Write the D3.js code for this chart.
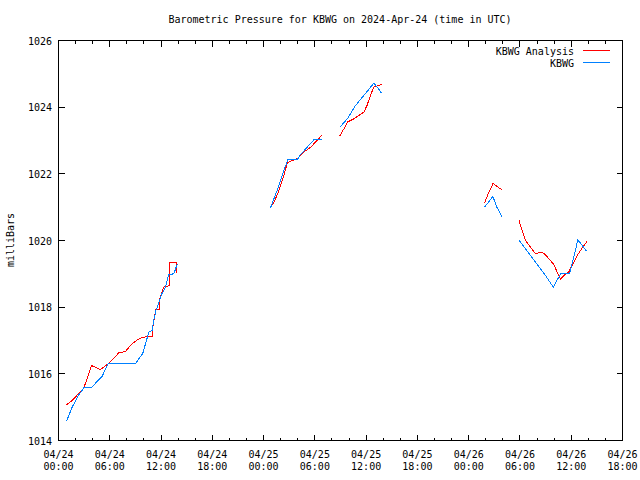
<!DOCTYPE html>
<html><head><meta charset="utf-8">
<script src="https://cdn.jsdelivr.net/npm/d3@7"></script>
<style>body{margin:0;background:#fff}svg{display:block}text{font-family:"DejaVu Sans Mono",monospace;font-size:10px;fill:#000}</style>
</head><body><svg id="c" width="640" height="480"></svg>
<script>
// hours since 2024-04-24 00:00 UTC; null = gap
const analysisHours = [0.94,1.6,2.97,3.86,4.9,5.8,6.5,7.06,7.84,8.4,9.2,9.87,10.96,10.96,11.2,11.4,11.8,11.8,12.3,13.0,13.0,13.8,13.8,null,
  24.81,25.3,25.8,26.37,26.76,27.15,27.9,28.7,29.5,30.27,30.78,null,
  32.92,33.4,33.8,34.56,35.15,35.73,36.1,36.6,36.9,37.37,37.9,null,
  49.85,50.36,50.87,51.3,51.9,null,
  53.87,54.26,54.65,55.24,55.82,56.4,56.8,57.4,57.96,58.36,58.75,59.3,59.7,60.1,60.7,61.3,61.86];
const analysisValues = [1015.07,1015.2,1015.58,1016.25,1016.13,1016.3,1016.48,1016.63,1016.67,1016.85,1017.02,1017.1,1017.12,1017.3,1017.65,1017.92,1017.92,1018.22,1018.6,1018.65,1019.33,1019.33,1019.02,null,
  1020.98,1021.2,1021.5,1021.95,1022.32,1022.38,1022.45,1022.65,1022.8,1023.0,1023.15,null,
  1023.14,1023.35,1023.55,1023.65,1023.75,1023.85,1024.05,1024.42,1024.6,1024.65,1024.68,null,
  1021.12,1021.45,1021.72,1021.62,1021.52,null,
  1020.62,1020.3,1020.0,1019.8,1019.6,1019.65,1019.62,1019.45,1019.28,1019.05,1018.85,1018.98,1019.05,1019.25,1019.55,1019.78,1019.97];
const obsHours = [0.94,1.6,2.4,2.97,3.86,4.5,5.1,5.8,9.0,9.87,10.57,10.96,11.16,11.4,11.7,12.1,12.5,12.9,13.5,13.9,null,
  24.81,25.2,25.8,26.37,26.84,27.93,28.3,29.1,29.88,30.86,null,
  32.92,33.8,34.76,35.73,36.9,37.3,37.8,null,
  49.85,50.83,51.3,51.9,null,
  53.87,54.65,55.43,56.2,57.0,57.9,58.75,59.8,60.3,60.77,61.3,61.8];
const obsValues = [1014.58,1015.0,1015.38,1015.58,1015.58,1015.77,1015.92,1016.3,1016.3,1016.62,1017.25,1017.3,1017.62,1017.9,1018.1,1018.4,1018.6,1018.98,1019.0,1019.3,null,
  1020.98,1021.25,1021.65,1022.1,1022.42,1022.42,1022.57,1022.8,1023.02,1023.02,null,
  1023.4,1023.65,1024.05,1024.35,1024.72,1024.6,1024.42,null,
  1021.0,1021.32,1021.0,1020.7,null,
  1020.02,1019.75,1019.48,1019.22,1018.95,1018.6,1019.0,1019.0,1019.5,1020.02,1019.85,1019.68];
const xTickHours = [0,6,12,18,24,30,36,42,48,54,60,66];
const xTickDates = ["04/24","04/24","04/24","04/24","04/25","04/25","04/25","04/25","04/26","04/26","04/26","04/26"];
const xTickTimes = ["00:00","06:00","12:00","18:00","00:00","06:00","12:00","18:00","00:00","06:00","12:00","18:00"];
const yTicks = [1014,1016,1018,1020,1022,1024,1026];
const seriesNames = ["KBWG Analysis","KBWG"];
const seriesColors = ["#ff0000","#0080ff"];
const titleText = "Barometric Pressure for KBWG on 2024-Apr-24 (time in UTC)";
const yLabel = "milliBars";

const L=58.5,R=622.5,T=40.5,B=440.5;
const svg=d3.select("#c");
const x=d3.scaleLinear().domain([0,66]).range([L,R]);
const y=d3.scaleLinear().domain([1014,1026]).range([B,T]);

svg.append("text").attr("x",340).attr("y",23).attr("text-anchor","middle").text(titleText);
svg.append("text").attr("transform","translate(14,240) rotate(-90)").attr("text-anchor","middle").text(yLabel);

const g=svg.append("g").attr("shape-rendering","crispEdges").attr("stroke","#000");
yTicks.forEach(v=>{
  g.append("line").attr("x1",L).attr("x2",L+6).attr("y1",y(v)).attr("y2",y(v));
  g.append("line").attr("x1",R).attr("x2",R-6).attr("y1",y(v)).attr("y2",y(v));
});
svg.selectAll(".yl").data(yTicks).enter().append("text").attr("x",52).attr("y",d=>y(d)+4).attr("text-anchor","end").text(d=>d);
d3.range(0,67,2).forEach(h=>{
  const len = xTickHours.includes(h)?6:3;
  g.append("line").attr("x1",x(h)).attr("x2",x(h)).attr("y1",B).attr("y2",B-len);
  g.append("line").attr("x1",x(h)).attr("x2",x(h)).attr("y1",T).attr("y2",T+len);
});
xTickHours.forEach((h,i)=>{
  svg.append("text").attr("x",x(h)).attr("y",458).attr("text-anchor","middle").text(xTickDates[i]);
  svg.append("text").attr("x",x(h)).attr("y",470).attr("text-anchor","middle").text(xTickTimes[i]);
});
g.append("rect").attr("x",L).attr("y",T).attr("width",R-L).attr("height",B-T).attr("fill","none");

const line=d3.line().defined(d=>d[1]!==null).x(d=>x(d[0])).y(d=>y(d[1]));
const aData=analysisHours.map((h,i)=>[h,analysisValues[i]]);
const oData=obsHours.map((h,i)=>[h,obsValues[i]]);
svg.append("path").datum(aData).attr("d",line).attr("fill","none").attr("stroke",seriesColors[0]).attr("stroke-width",1).attr("shape-rendering","crispEdges");
svg.append("path").datum(oData).attr("d",line).attr("fill","none").attr("stroke",seriesColors[1]).attr("stroke-width",1).attr("shape-rendering","crispEdges");

seriesNames.forEach((n,i)=>{
  const yy=50.5+i*12;
  svg.append("text").attr("x",574).attr("y",yy+4).attr("text-anchor","end").text(n);
  svg.append("line").attr("x1",583).attr("x2",610).attr("y1",yy).attr("y2",yy).attr("stroke",seriesColors[i]).attr("shape-rendering","crispEdges");
});
</script></body></html>
